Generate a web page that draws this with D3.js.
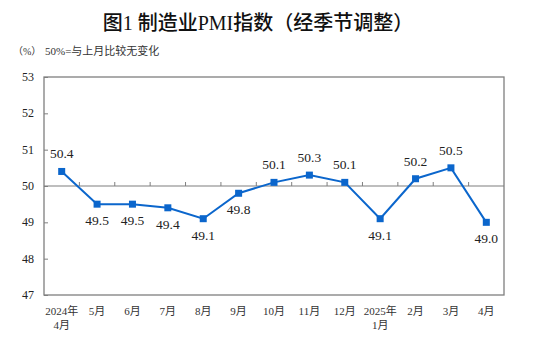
<!DOCTYPE html>
<html><head><meta charset="utf-8">
<script src="https://cdn.jsdelivr.net/npm/d3@7"></script>
<style>body{margin:0;background:#fff}</style>
</head><body><svg id="c" width="534" height="347"></svg>
<script>
const months = ["2024年\n4月","5月","6月","7月","8月","9月","10月","11月","12月","2025年\n1月","2月","3月","4月"];
const pmi = [50.4,49.5,49.5,49.4,49.1,49.8,50.1,50.3,50.1,49.1,50.2,50.5,49.0];
const labelPos = ["up","down","down","down","down","down","up","up","up","down","up","up","down"];
const yTicks = [47,48,49,50,51,52,53];

const svg = d3.select("#c");
const L=44,R=504,T=77,B=295;
const x = d3.scaleBand().domain(d3.range(months.length)).range([L,R]);
const y = d3.scaleLinear().domain([47,53]).range([B,T]);
const blue="#0b66cc", gray="#7f7f7f";
const serif="'Liberation Serif','Times New Roman',serif";
const cjk="'Liberation Serif','Noto Sans CJK SC',serif";

// title
const tt = svg.append("text").attr("x",258).attr("y",30).attr("text-anchor","middle").attr("font-size",20).attr("fill","#111");
[["图",1],["1 ",0],["制造业",1],["PMI",0],["指数（经季节调整）",1]].forEach(([s,c])=>{
  tt.append("tspan").text(s).attr("font-family",c?"'Noto Sans CJK SC'":serif).attr("font-weight",c?500:400);
});
const st = svg.append("text").attr("y",55).attr("font-size",11).attr("font-family",cjk).attr("fill","#333");
st.append("tspan").attr("x",13).attr("font-size",10).text("（%）");
st.append("tspan").attr("x",45).text("50%=与上月比较无变化");

// frame
svg.append("rect").attr("x",L).attr("y",T).attr("width",R-L).attr("height",B-T).attr("fill","none").attr("stroke",gray).attr("stroke-width",1.3);

// y axis
const ya = svg.append("g").attr("transform",`translate(${L},0)`).call(d3.axisRight(y).tickValues(yTicks).tickSize(4).tickFormat(""));
ya.select(".domain").remove();
ya.selectAll("line").attr("stroke",gray);
svg.selectAll(".yl").data(yTicks).join("text").attr("x",34).attr("y",d=>y(d)+4).attr("text-anchor","end")
  .attr("font-size",12).attr("font-family",serif).attr("fill","#222").text(d=>d);

// 50 line
svg.append("line").attr("x1",L).attr("x2",R).attr("y1",y(50)).attr("y2",y(50)).attr("stroke",gray).attr("stroke-width",1.2);
svg.selectAll(".xt").data(d3.range(1,months.length)).join("line")
  .attr("x1",d=>x(d)).attr("x2",d=>x(d)).attr("y1",y(50)).attr("y2",y(50)-4).attr("stroke",gray);

// x labels
months.forEach((m,i)=>{
  const t = svg.append("text").attr("text-anchor","middle").attr("font-size",11).attr("font-family",cjk).attr("fill","#333");
  m.split("\n").forEach((s,j)=>t.append("tspan").attr("x",x(i)+x.bandwidth()/2).attr("y",315+j*14).text(s));
});

// line
const cx = i=>x(i)+x.bandwidth()/2;
svg.append("path").datum(pmi).attr("fill","none").attr("stroke",blue).attr("stroke-width",2)
  .attr("d",d3.line().x((d,i)=>cx(i)).y(d=>y(d)));
svg.selectAll(".m").data(pmi).join("rect").attr("x",(d,i)=>cx(i)-3.5).attr("y",d=>y(d)-3.5).attr("width",7).attr("height",7).attr("fill",blue);
svg.selectAll(".dl").data(pmi).join("text").attr("x",(d,i)=>cx(i)).attr("y",(d,i)=>labelPos[i]==="up"?y(d)-13:y(d)+21)
  .attr("text-anchor","middle").attr("font-size",13.5).attr("font-family",serif).attr("fill","#222").text(d=>d.toFixed(1));
</script></body></html>
